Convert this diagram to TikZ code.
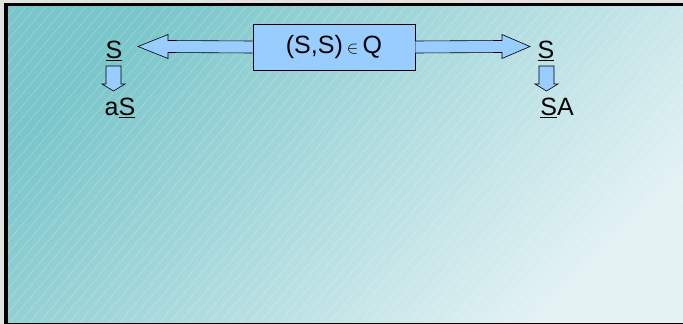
\documentclass[tikz,border=0pt]{standalone}
\usepackage{fontspec}
\setmainfont{Liberation Sans}
\usetikzlibrary{calc}
\definecolor{tealA}{RGB}{122,198,202}
\definecolor{tealB}{RGB}{228,242,244}
\definecolor{boxblue}{RGB}{153,204,255}
\definecolor{outergray}{RGB}{226,226,226}
\tikzset{
  lbl/.style={inner sep=0pt, font=\fontsize{25}{27}\selectfont},
  qbox/.style={draw=black, line width=0.8pt, fill=boxblue, minimum width=162pt, minimum height=46pt, inner sep=0pt, font=\fontsize{25}{27}\selectfont},
  blockarrow/.style={draw=black, line width=0.6pt, fill=boxblue, line join=miter},
}
\begin{document}
\begin{tikzpicture}[x=1pt,y=-1pt]
\useasboundingbox (0,0) rectangle (683,324);
\fill[outergray] (0,0) rectangle (683,324);
\fill[black] (4,2.7) rectangle (690,330);
\shade[left color=tealA, right color=tealB, shading angle=45] (8,6.7) rectangle (690,322);
\begin{scope}
\clip (8,6.7) rectangle (690,322);
\foreach \i in {-330,-320,...,700} {
  \draw[white, opacity=0.3, line width=0.45pt] (\i,322) -- (\i+270,2);
}
\end{scope}

\node[qbox] (q) at (334,47) {(S,S)\,{\fontsize{18}{18}\selectfont$\in$}\,Q};
\node[lbl] (sL) at (114,51) {\underline{S}};
\node[lbl] (aS) at (120,108) {a\underline{S}};
\node[lbl] (sR) at (546,51) {\underline{S}};
\node[lbl] (SA) at (557,108) {\underline{S}A};

% left block arrow
\coordinate (tipL) at (138,46.5);
\draw[blockarrow] ($(q.west)+(0,-6)$) -- ($(tipL)+(30,-6)$) -- ($(tipL)+(30,-12)$) -- (tipL)
  -- ($(tipL)+(30,12)$) -- ($(tipL)+(30,6)$) -- ($(q.west)+(0,6)$);
% right block arrow
\coordinate (tipR) at (530,46.5);
\draw[blockarrow] ($(q.east)+(0,-6)$) -- ($(tipR)+(-28,-6)$) -- ($(tipR)+(-28,-12)$) -- (tipR)
  -- ($(tipR)+(-28,12)$) -- ($(tipR)+(-28,6)$) -- ($(q.east)+(0,6)$);
% down arrows
\coordinate (dL) at (113.5,91);
\draw[blockarrow] (106,66) -- (106,84) -- (102,84) -- (dL) -- (125,84) -- (121,84) -- (121,66) -- cycle;
\coordinate (dR) at (546.5,91);
\draw[blockarrow] (539,66) -- (539,84) -- (535,84) -- (dR) -- (558,84) -- (554,84) -- (554,66) -- cycle;
\end{tikzpicture}
\end{document}
